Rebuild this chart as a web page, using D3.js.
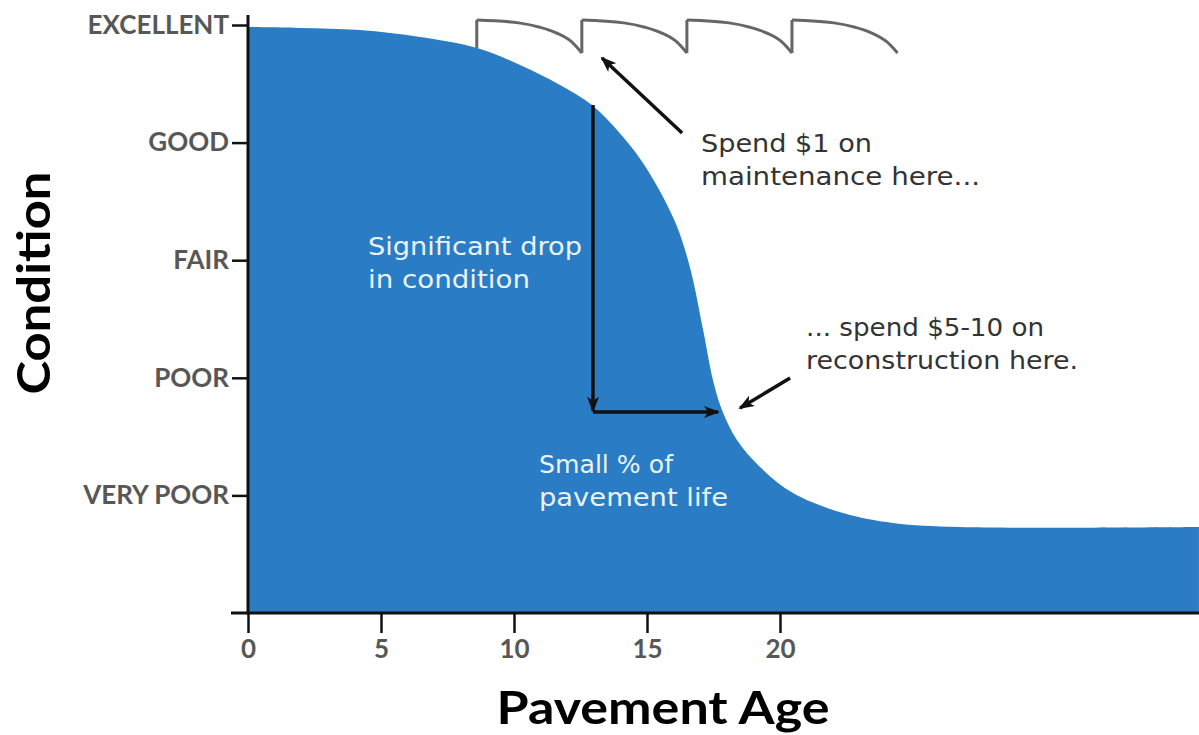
<!DOCTYPE html>
<html>
<head>
<meta charset="utf-8">
<script src="https://cdn.jsdelivr.net/npm/d3@7"></script>
<style>
  html, body { margin: 0; padding: 0; background: #fff; }
  svg { display: block; font-family: Lato, "Open Sans", sans-serif; }
</style>
</head>
<body>
<svg id="chart" width="1199" height="735"></svg>
<script>
// pavement condition curve (age in years, condition 0..5)
const curveAge  = [0, 1.95, 4.21, 6.47, 8.61, 10.23, 11.73, 12.93, 13.98, 14.9, 16.05, 16.62, 17.11, 17.48, 17.82, 18.38, 19.25, 20.49, 22.37, 24.25, 26.77, 35.75];
const curveCond = [4.983, 4.975, 4.957, 4.898, 4.804, 4.660, 4.490, 4.320, 4.080, 3.810, 3.330, 2.934, 2.406, 1.981, 1.726, 1.471, 1.241, 1.020, 0.850, 0.765, 0.731, 0.731];

// maintenance sawtooth: one row of ages per treatment cycle, same condition profile each time
const maintAge = [
  [8.6, 10.18, 10.97, 11.56, 12.16, 12.55],
  [12.55, 14.13, 14.92, 15.51, 16.11, 16.5],
  [16.5, 18.08, 18.87, 19.46, 20.06, 20.45],
  [20.45, 22.03, 22.82, 23.41, 24.01, 24.42]
];
const maintCond = [5.043, 5.018, 4.981, 4.936, 4.858, 4.762];
const maintJumpFrom = [4.804, 4.762, 4.762, 4.762];

// ticks
const condTicks  = [1, 2, 3, 4, 5];
const condLabels = ["VERY POOR", "POOR", "FAIR", "GOOD", "EXCELLENT"];
const ageTicks   = [0, 5, 10, 15, 20];

/**
 * Layout.
 */
const width = 1199, height = 735;
const blue = "#2a7dc4";
const ink = "#111";
const labelGray = "#575757";
const noteFont = "'DejaVu Sans', Lato, sans-serif";

const svg = d3.select("#chart");

const x = d3.scaleLinear().domain([0, 20]).range([248, 780]);
const y = d3.scaleLinear().domain([0, 5]).range([613, 25]);

/**
 * Marker defs.
 */
const defs = svg.append("defs");
defs.append("marker")
    .attr("id", "head")
    .attr("viewBox", "0 0 16 12")
    .attr("refX", 14)
    .attr("refY", 6)
    .attr("markerUnits", "userSpaceOnUse")
    .attr("markerWidth", 16)
    .attr("markerHeight", 12)
    .attr("orient", "auto")
  .append("path")
    .attr("d", "M0,0 L16,6 L0,12 L4,6 Z")
    .attr("fill", ink);

/**
 * Condition area.
 */
const points = curveAge.map((a, i) => [a, curveCond[i]]);

svg.append("path")
    .datum(points)
    .attr("fill", blue)
    .attr("d", d3.area()
      .x(d => x(d[0]))
      .y0(y(0))
      .y1(d => y(d[1]))
      .curve(d3.curveCatmullRom.alpha(0.5)));

/**
 * Maintenance sawtooth.
 */
const saw = svg.append("g")
    .attr("fill", "none")
    .attr("stroke", "#666")
    .attr("stroke-width", 3)
    .attr("stroke-linejoin", "round");

maintAge.forEach((ages, i) => {
  const pts = ages.map((a, j) => [a, maintCond[j]]);
  saw.append("line")
      .attr("x1", x(ages[0])).attr("x2", x(ages[0]))
      .attr("y1", y(maintJumpFrom[i])).attr("y2", y(maintCond[0]));
  saw.append("path")
      .attr("d", d3.line()
        .x(d => x(d[0]))
        .y(d => y(d[1]))
        .curve(d3.curveMonotoneX)(pts));
});

/**
 * Arrows.
 */
const arrows = [
  { pts: [[12.97, 4.32], [12.97, 1.72]] },
  { pts: [[12.97, 1.709], [17.67, 1.709]] },
  { pts: [[16.32, 4.082], [13.31, 4.719]] },
  { pts: [[20.38, 1.998], [18.5, 1.743]] }
];

svg.append("g")
    .attr("stroke", ink)
    .attr("stroke-width", 3.5)
    .attr("fill", "none")
  .selectAll("path")
  .data(arrows)
  .enter().append("path")
    .attr("d", d => d3.line().x(p => x(p[0])).y(p => y(p[1]))(d.pts))
    .attr("marker-end", "url(#head)");

/**
 * Annotations: each line gets the width it has in the picture.
 */
const notes = [
  { lines: ["Spend $1 on", "maintenance here..."], widths: [171, 279], age: 17.03, cond: 3.92, fill: "#333" },
  { lines: ["... spend $5-10 on", "reconstruction here."], widths: [238, 272], age: 20.98, cond: 2.355, fill: "#333" },
  { lines: ["Significant drop", "in condition"], widths: [214, 162], age: 4.51, cond: 3.044, fill: "#eaf2fa" },
  { lines: ["Small % of", "pavement life"], widths: [134, 189], age: 10.94, cond: 1.19, fill: "#eaf2fa" }
];

notes.forEach(n => {
  svg.append("g")
    .selectAll("text")
    .data(n.lines)
    .enter().append("text")
      .attr("x", x(n.age))
      .attr("y", (d, i) => y(n.cond) + i * 33)
      .attr("font-family", noteFont)
      .attr("font-size", 24)
      .attr("fill", n.fill)
      .attr("textLength", (d, i) => n.widths[i])
      .attr("lengthAdjust", "spacingAndGlyphs")
      .text(d => d);
});

/**
 * Axes.
 */
const yAxis = d3.axisLeft(y)
    .tickValues(condTicks)
    .tickFormat((d, i) => condLabels[i])
    .tickSize(16)
    .tickPadding(3);

svg.append("g")
    .attr("transform", `translate(${x(0)},0)`)
    .call(yAxis)
    .call(g => g.select(".domain").remove())
    .call(g => g.attr("font-family", null).attr("font-size", 26).attr("font-weight", 700))
    .call(g => g.selectAll(".tick line").attr("stroke", ink).attr("stroke-width", 2.5))
    .call(g => g.selectAll(".tick text").attr("fill", labelGray));

const xAxis = d3.axisBottom(x)
    .tickValues(ageTicks)
    .tickSize(20)
    .tickPadding(7);

svg.append("g")
    .attr("transform", `translate(0,${y(0)})`)
    .call(xAxis)
    .call(g => g.select(".domain").remove())
    .call(g => g.attr("font-family", null).attr("font-size", 26).attr("font-weight", 700))
    .call(g => g.selectAll(".tick line").attr("stroke", ink).attr("stroke-width", 2.5))
    .call(g => g.selectAll(".tick text").attr("fill", labelGray));

// axis lines, drawn on top of the fill
svg.append("line")
    .attr("x1", x(0)).attr("x2", x(0))
    .attr("y1", y(5) - 10).attr("y2", y(0) + 1.5)
    .attr("stroke", ink).attr("stroke-width", 3);

svg.append("line")
    .attr("x1", x(0) - 17).attr("x2", width)
    .attr("y1", y(0)).attr("y2", y(0))
    .attr("stroke", ink).attr("stroke-width", 3);

// axis titles
svg.append("text")
    .attr("x", 663)
    .attr("y", 724)
    .attr("text-anchor", "middle")
    .attr("font-size", 46)
    .attr("font-weight", 700)
    .attr("fill", "#000")
    .attr("textLength", 333)
    .attr("lengthAdjust", "spacingAndGlyphs")
    .text("Pavement Age");

svg.append("text")
    .attr("transform", "translate(50,283) rotate(-90)")
    .attr("text-anchor", "middle")
    .attr("font-size", 46)
    .attr("font-weight", 700)
    .attr("fill", "#000")
    .attr("textLength", 223)
    .attr("lengthAdjust", "spacingAndGlyphs")
    .text("Condition");
</script>
</body>
</html>
